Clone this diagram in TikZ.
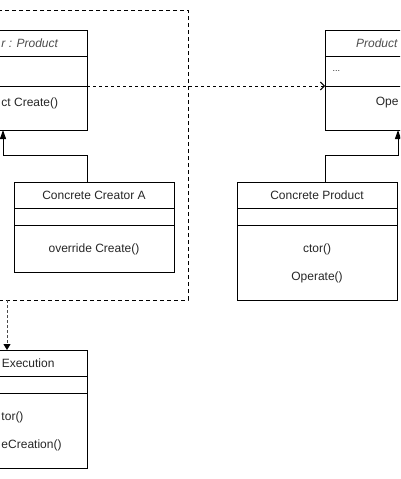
\documentclass[tikz,border=0pt]{standalone}
\usepackage{fontspec}
\setmainfont{Liberation Sans}
\usetikzlibrary{arrows.meta,calc}
\begin{document}
\begin{tikzpicture}[x=1pt,y=-1pt,line width=1pt]
\tikzset{
  cls/.style={draw, line width=1pt, minimum width=160pt, inner sep=0pt, outer sep=0pt},
  lbl/.style={inner sep=0pt, text=black!85, font=\fontsize{12}{14}\selectfont},
  hdr/.style={lbl, font=\fontsize{12}{14}\selectfont\itshape, text=black!70},
  inh/.style={line width=1pt, -{Triangle[length=9pt,width=6pt]}},
  dep/.style={line width=1pt, dash pattern=on 3pt off 3pt, -{Straight Barb[length=4pt,width=8pt]}},
  flow/.style={line width=1pt, dash pattern=on 3pt off 2pt, black!70, -{Triangle[length=6pt,width=7pt,color=black]}},
  frame/.style={draw, line width=1pt, dash pattern=on 4pt off 3pt, inner sep=0pt, outer sep=0pt}
}
\useasboundingbox (0,0) rectangle (400,479);
\clip (0,0) rectangle (400,479);

% dashed frame
\node[frame, minimum width=308pt, minimum height=290pt] (frame) at (34,155) {};

% boxes
\node[cls, minimum height=100pt] (creator) at (7,80) {};
\node[cls, minimum height=100pt] (product) at (405,80) {};
\node[cls, minimum height=90pt] (creatorA) at (94,227) {};
\node[cls, minimum height=118pt] (cproduct) at (317,241) {};
\node[cls, minimum height=118pt] (execution) at (7,409) {};

% separators
\foreach \n/\a/\b in {creator/26/56, product/26/56, creatorA/26/43, cproduct/26/43, execution/26/43}{
  \draw ($(\n.north west)+(0,\a)$) -- ($(\n.north east)+(0,\a)$);
  \draw ($(\n.north west)+(0,\b)$) -- ($(\n.north east)+(0,\b)$);
}

% texts
\node[hdr, anchor=west] (t1) at (1,43) {r : Product};
\node[lbl, anchor=west] (t2) at (1,103) {ct Create()};
\node[hdr, anchor=east] (t3) at (398,43) {Product};
\node[lbl, anchor=west, font=\fontsize{9}{10}\selectfont] (t4) at (332,71) {...};
\node[lbl, anchor=east] (t5) at (399,103) {Ope};
\node[lbl] (t6) at (94,195) {Concrete Creator A};
\node[lbl] (t7) at (94,249) {override Create()};
\node[lbl] (t8) at (317,195) {Concrete Product};
\node[lbl] (t9) at (317,249) {ctor()};
\node[lbl] (t10) at (317,277) {Operate()};
\node[lbl, anchor=east] (t11) at (55,363) {Execution};
\node[lbl, anchor=west] (t12) at (1,417) {tor()};
\node[lbl, anchor=west] (t13) at (1,445) {eCreation()};

% connectors
\coordinate (a1) at (87,155);
\coordinate (a2) at (3,155);
\draw[inh] (creatorA.north -| creator.east) -- (a1) -- (a2) -- (a2 |- creator.south);
\coordinate (b1) at (398,155);
\draw[inh] (cproduct.north -| product.west) |- (b1) -- (b1 |- product.south);
\draw[dep] ($(creator.north east)+(0,56)$) -- ($(product.north west)+(0,56)$);
\draw[flow] (frame.south -| execution) -- (execution.north);
\end{tikzpicture}
\end{document}
